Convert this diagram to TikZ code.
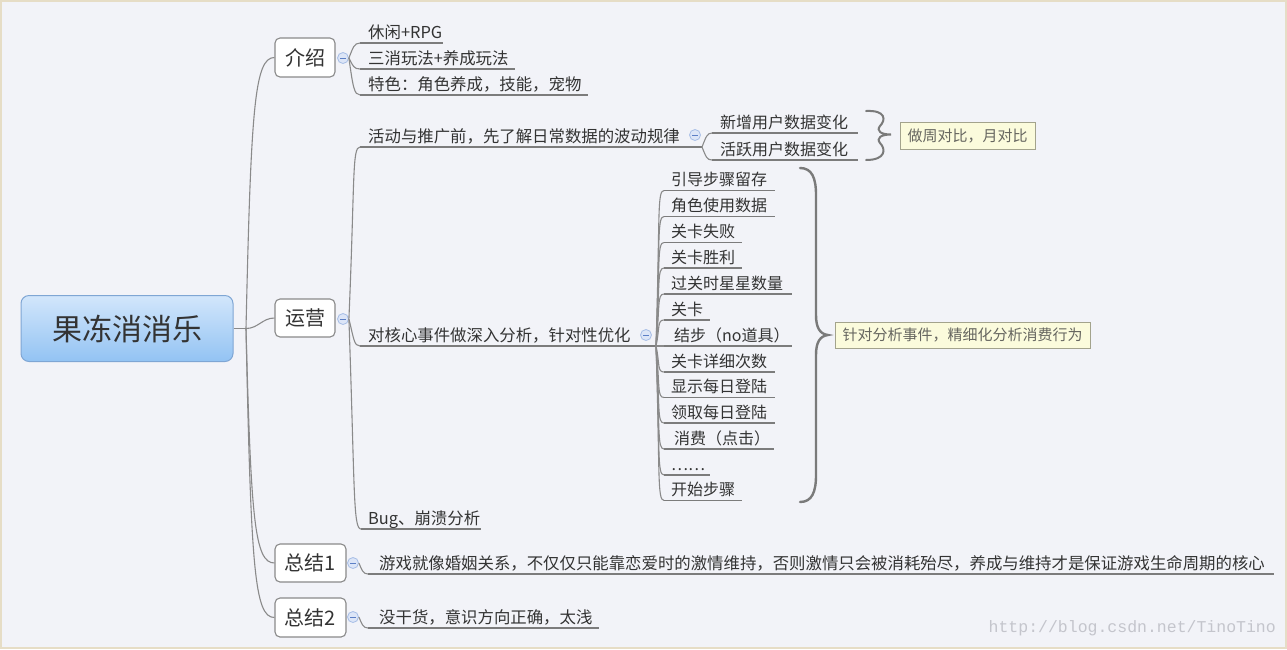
\documentclass[tikz,border=0pt]{standalone}
\usepackage{fontspec}
\newfontfamily\cjk{Noto Sans CJK SC}
\newfontfamily\wmfont{Liberation Mono}
\definecolor{bgc}{HTML}{F2F3F8}
\definecolor{framec}{HTML}{E6DDC6}
\definecolor{linec}{HTML}{8A8A8A}
\definecolor{ulinec}{HTML}{7C7C7C}
\definecolor{txtc}{HTML}{333333}
\definecolor{rtop}{HTML}{D2E6FB}
\definecolor{rbot}{HTML}{93C3F3}
\definecolor{rdraw}{HTML}{7FA6D4}
\definecolor{collf}{HTML}{DCE5F7}
\definecolor{colld}{HTML}{A7BEE6}
\definecolor{collm}{HTML}{5C7FC6}
\definecolor{notef}{HTML}{FBFBDC}
\definecolor{noted}{HTML}{A3A38C}
\definecolor{notet}{HTML}{666660}
\definecolor{bracec}{HTML}{7A7A7A}
\definecolor{wmc}{HTML}{C4C5CC}
\newcommand{\mmleaf}[7]{%
  \coordinate (#1s) at (#2,#3);
  \coordinate (#1e) at (#4,#3);
  \draw[uline] (#1s) -- (#1e);
  \node[#6, anchor=base west] (#1) at (#5,#3-5) {#7};
}
\begin{document}
\begin{tikzpicture}[x=1pt,y=-1pt,
  conn/.style={draw=linec, line width=1.1pt},
  uline/.style={draw=ulinec, line width=1.3pt},
  ltwo/.style={font=\cjk\fontsize{16.4}{19}\selectfont, text=txtc, inner sep=0pt},
  lthree/.style={font=\cjk\fontsize{16}{19}\selectfont, text=txtc, inner sep=0pt},
  topicbox/.style={draw=linec, fill=white, rounded corners=5pt, line width=1.1pt,
    font=\cjk\fontsize{20}{24}\selectfont, text=txtc, inner sep=0pt},
  rootbox/.style={draw=rdraw, top color=rtop, bottom color=rbot, rounded corners=8pt,
    line width=1pt, minimum width=212pt, minimum height=66pt,
    font=\cjk\fontsize{30}{34}\selectfont, text=txtc, inner sep=0pt},
  coll/.style={circle, minimum size=11pt, inner sep=0pt, fill=collf, draw=colld, line width=0.8pt,
    path picture={\draw[collm, line width=0.9pt] ([xshift=-3pt]path picture bounding box.center) -- ([xshift=3pt]path picture bounding box.center);}},
  notebox/.style={draw=noted, fill=notef, line width=1pt, inner sep=0pt,
    font=\cjk\fontsize{15}{18}\selectfont, text=notet},
  bracel/.style={draw=bracec, line width=2.4pt, line cap=round}
]
\useasboundingbox (0,0) rectangle (1287,649);
\fill[bgc] (0,0) rectangle (1287,649);
\draw[framec, line width=2pt] (1,1) rectangle (1286,648);

% root and main topics
\node[rootbox] (root) at (127,328.5) {果冻消消乐};
\coordinate (j) at (246,328.5);
\node[topicbox, minimum width=60pt, minimum height=39pt] (intro) at (305,57.5) {介绍};
\node[topicbox, minimum width=60pt, minimum height=38pt] (ops) at (305,318) {运营};
\node[topicbox, minimum width=71pt, minimum height=38pt] (sumA) at (310.5,563) {总结1};
\node[topicbox, minimum width=71pt, minimum height=39pt] (sumB) at (310.5,617.5) {总结2};

\draw[conn] (root.east) -- (j);
\draw[conn] (j) .. controls +(5,-220) and +(-20,0) .. (intro.west);
\draw[conn] (j) .. controls +(12,0) and +(-12,0) .. (ops.west);
\draw[conn] (j) .. controls +(5,190) and +(-20,0) .. (sumA.west);
\draw[conn] (j) .. controls +(5,240) and +(-20,0) .. (sumB.west);

% collapse markers
\node[coll] (ci) at (343,58) {};
\node[coll] (co) at (343,319) {};
\node[coll] (cs1) at (353,563) {};
\node[coll] (cs2) at (353,617) {};

% intro children
\mmleaf{ia}{360}{43}{443}{368}{ltwo}{休闲+RPG}
\mmleaf{ib}{360}{69}{515}{368}{ltwo}{三消玩法+养成玩法}
\mmleaf{ic}{360}{95}{588}{368}{ltwo}{特色：角色养成，技能，宠物}
\draw[conn] (ci.east) .. controls +(4,-10) and +(-6,0) .. (ias);
\draw[conn] (ci.east) .. controls +(4,8) and +(-6,0) .. (ibs);
\draw[conn] (ci.east) .. controls +(4,28) and +(-6,0) .. (ics);

% ops children
\mmleaf{oa}{360}{147}{702}{368}{ltwo}{活动与推广前，先了解日常数据的波动规律}
\mmleaf{ob}{360}{346}{656}{368}{ltwo}{对核心事件做深入分析，针对性优化}
\mmleaf{oc}{361}{529}{481}{368}{ltwo}{Bug、崩溃分析}
\draw[conn] (co.east) .. controls +(6,-140) and +(-8,0) .. (oas);
\draw[conn] (co.east) .. controls +(5,20) and +(-6,0) .. (obs);
\draw[conn] (co.east) .. controls +(6,170) and +(-8,0) .. (ocs);
\node[coll] (ca) at (695,135) {};
\node[coll] (cc) at (646,335) {};

% activity children
\mmleaf{aa}{712}{133}{858}{720}{lthree}{新增用户数据变化}
\mmleaf{ab}{712}{160}{858}{720}{lthree}{活跃用户数据变化}
\draw[conn] (oae) .. controls +(4,-10) and +(-5,0) .. (aas);
\draw[conn] (oae) .. controls +(4,10) and +(-5,0) .. (abs);

% core event children
\mmleaf{k1}{664}{190.5}{775}{671}{lthree}{引导步骤留存}
\mmleaf{k2}{664}{216.5}{775}{671}{lthree}{角色使用数据}
\mmleaf{k3}{664}{242.5}{742}{671}{lthree}{关卡失败}
\mmleaf{k4}{664}{268}{742}{671}{lthree}{关卡胜利}
\mmleaf{k5}{664}{294}{792}{671}{lthree}{过关时星星数量}
\mmleaf{k6}{664}{320}{710}{671}{lthree}{关卡}
\mmleaf{k7}{664}{346}{792}{674}{lthree}{结步（no道具）}
\mmleaf{k8}{664}{372}{775}{671}{lthree}{关卡详细次数}
\mmleaf{k9}{664}{397.5}{775}{671}{lthree}{显示每日登陆}
\mmleaf{k10}{664}{423}{775}{671}{lthree}{领取每日登陆}
\mmleaf{k11}{664}{449}{774}{674}{lthree}{消费（点击）}
\mmleaf{k12}{664}{475}{710}{671}{lthree}{……}
\mmleaf{k13}{664}{500.5}{742}{671}{lthree}{开始步骤}
\draw[conn] (obe) .. controls +(4,-130) and +(-7,0) .. (k1s);
\draw[conn] (obe) .. controls +(4,-105) and +(-7,0) .. (k2s);
\draw[conn] (obe) .. controls +(4,-83) and +(-7,0) .. (k3s);
\draw[conn] (obe) .. controls +(4,-62) and +(-7,0) .. (k4s);
\draw[conn] (obe) .. controls +(4,-40) and +(-7,0) .. (k5s);
\draw[conn] (obe) .. controls +(4,-18) and +(-7,0) .. (k6s);
\draw[conn] (obe) -- (k7s);
\draw[conn] (obe) .. controls +(4,18) and +(-7,0) .. (k8s);
\draw[conn] (obe) .. controls +(4,40) and +(-7,0) .. (k9s);
\draw[conn] (obe) .. controls +(4,62) and +(-7,0) .. (k10s);
\draw[conn] (obe) .. controls +(4,83) and +(-7,0) .. (k11s);
\draw[conn] (obe) .. controls +(4,105) and +(-7,0) .. (k12s);
\draw[conn] (obe) .. controls +(4,125) and +(-7,0) .. (k13s);

% braces and notes
\coordinate (b1top) at (866,111);
\coordinate (b1tip) at (891,134.5);
\coordinate (b1bot) at (866,160);
\draw[bracel, line width=2pt] (b1top) .. controls (886,110) and (886,120) .. (880,126)
  .. controls (876,131) and (881,134.5) .. (b1tip)
  .. controls (881,134.5) and (876,138) .. (880,143)
  .. controls (886,149) and (886,160) .. (b1bot);
\node[notebox, minimum width=135pt, minimum height=27pt] (n1) at (967.5,135.5) {做周对比，月对比};

\coordinate (b2top) at (800,168);
\coordinate (b2tip) at (828,335);
\coordinate (b2bot) at (800,502);
\draw[bracel] (b2top) .. controls (812,168) and (816,178) .. (816,195) -- (816,315)
  .. controls (816,328) and (820,334) .. (b2tip)
  .. controls (820,336) and (816,342) .. (816,355) -- (816,475)
  .. controls (816,492) and (812,502) .. (b2bot);
\node[notebox, minimum width=255pt, minimum height=26pt] (n2) at (962.5,335) {针对分析事件，精细化分析消费行为};

% summaries
\mmleaf{sa}{368}{574}{1274}{379}{ltwo}{游戏就像婚姻关系，不仅仅只能靠恋爱时的激情维持，否则激情只会被消耗殆尽，养成与维持才是保证游戏生命周期的核心}
\mmleaf{sb}{368}{628}{599}{379}{ltwo}{没干货，意识方向正确，太浅}
\draw[conn] (cs1.east) .. controls +(3,7) and +(-5,0) .. (sas);
\draw[conn] (cs2.east) .. controls +(3,7) and +(-5,0) .. (sbs);

% watermark
\node[font=\wmfont\fontsize{16.5}{19}\selectfont, text=wmc, anchor=east, inner sep=0pt] (wm) at (1276,628) {http://blog.csdn.net/TinoTino};
\end{tikzpicture}
\end{document}
